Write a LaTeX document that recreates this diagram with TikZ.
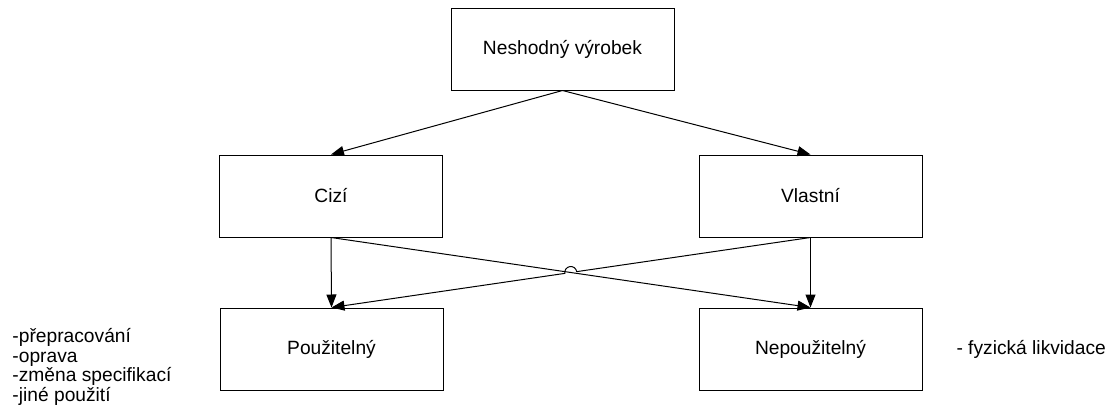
\documentclass[tikz,border=0pt]{standalone}
\usepackage{fontspec}
\setmainfont{Liberation Sans}
\usetikzlibrary{arrows.meta}
\usetikzlibrary{calc}

\begin{document}
\begin{tikzpicture}
[x=1pt,y=-1pt,line width=1pt,%
  boxDecorate/.style={draw,rectangle,minimum width=223pt,minimum height=82pt,inner sep=0pt},%
  lineDecorate/.style={-{Triangle[length=13pt,width=10pt]},line width=1pt}]
\fontsize{19.2}{19.7}\selectfont
\useasboundingbox (0,0) rectangle (1114,418);
%% boxes
\foreach \nodename/\x/\y/\lbl in {
  top/562.5/49/{Neshodný výrobek}, ci/331/196/{Cizí}, vl/810.5/196/{Vlastní},
  po/331.5/349/{Použitelný}, ne/810.5/349/{Nepoužitelný}}
{
  \node[boxDecorate] (\nodename) at (\x,\y) {\lbl};
}
%% side notes
\node[anchor=west,align=left,inner sep=0pt] (fix) at (12,367)
  {-přepracování\\-oprava\\-změna specifikací\\-jiné použití};
\node[anchor=west,inner sep=0pt] (scrap) at (956,349) {- fyzická likvidace};
%% connectors
\draw[lineDecorate] (top.south) -- (ci.north);
\draw[lineDecorate] (top.south) -- (vl.north);
\draw[lineDecorate] (ci.south) -- (po.north);
\draw[lineDecorate] (vl.south) -- (ne.north);
\draw[lineDecorate] (ci.south) -- (ne.north);
%% line hop where the two diagonals cross
\coordinate (hop) at ($(ci.south)!0.5!(ne.north)$);
\draw[lineDecorate] (vl.south) -- ($(hop)!6pt!(vl.south)$)
  arc[start angle=8.4,end angle=188.4,radius=6pt] -- (po.north);
\end{tikzpicture}
\end{document}
